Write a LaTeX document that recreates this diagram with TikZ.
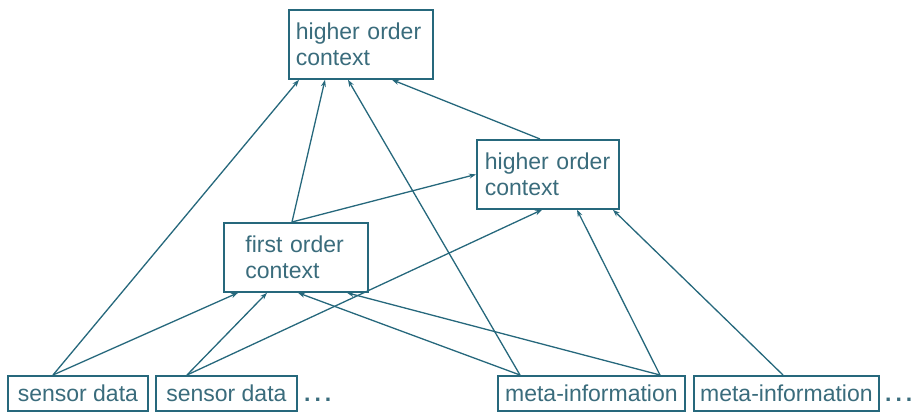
\documentclass[tikz,border=0pt]{standalone}
\usepackage{fontspec}
\setmainfont{Liberation Sans}
\usetikzlibrary{arrows.meta}
\definecolor{edgec}{RGB}{38,104,124}
\definecolor{textc}{RGB}{58,108,124}
\begin{document}
\begin{tikzpicture}[x=1pt,y=-1pt,
  font=\fontsize{23}{26}\selectfont,
  ctxbox/.style={draw=edgec,line width=1.8pt,fill=white,text=textc,
    align=left,minimum height=69pt,anchor=north west,inner ysep=0pt},
  srcbox/.style={draw=edgec,line width=1.8pt,fill=white,text=textc,
    minimum height=35pt,anchor=north west,inner sep=0pt},
  dots/.style={text=textc,anchor=base west,inner sep=0pt,font=\fontsize{23}{26}\selectfont\bfseries},
  arr/.style={draw=edgec,line width=1.3pt,-{Stealth[length=7pt,width=5pt]}}]
\useasboundingbox (0,0) rectangle (916,412);

% context nodes
\node[ctxbox,text width=130pt,inner xsep=7pt] (top) at (288,9) {higher order\\context};
\node[ctxbox,text width=126pt,inner xsep=8pt] (rh) at (476,139) {higher order\\context};
\node[ctxbox,text width=101pt,inner xsep=21.5pt] (fo) at (223,222) {first order\\context};

% data sources
\node[srcbox,minimum width=140pt] (sd1) at (7,375) {sensor data};
\node[srcbox,minimum width=141pt] (sd2) at (155,375) {sensor data};
\node[srcbox,minimum width=187pt] (mi1) at (497,375) {meta-information};
\node[srcbox,minimum width=185pt] (mi2) at (693,375) {meta-information};
\node[dots] (d1) at (304,401) {.\kern4pt.\kern4pt.};
\node[dots] (d2) at (885,401) {.\kern4pt.\kern4pt.};

% connectors
\draw[arr] ([xshift=46pt]sd1.north west) -- ([xshift=11pt]top.south west);
\draw[arr] ([xshift=46pt]sd1.north west) -- ([xshift=15pt]fo.south west);
\draw[arr] ([xshift=32pt]sd2.north west) -- ([xshift=44pt]fo.south west);
\draw[arr] ([xshift=32pt]sd2.north west) -- ([xshift=66pt]rh.south west);
\draw[arr] ([xshift=69pt]fo.north west) -- ([xshift=37pt]top.south west);
\draw[arr] ([xshift=69pt]fo.north west) -- (rh.west);
\draw[arr] ([xshift=23pt]mi1.north west) -- ([xshift=60pt]top.south west);
\draw[arr] ([xshift=23pt]mi1.north west) -- ([xshift=75pt]fo.south west);
\draw[arr] ([xshift=163pt]mi1.north west) -- ([xshift=124pt]fo.south west);
\draw[arr] ([xshift=163pt]mi1.north west) -- ([xshift=101pt]rh.south west);
\draw[arr] ([xshift=90pt]mi2.north west) -- ([xshift=137pt]rh.south west);
\draw[arr] ([xshift=64pt]rh.north west) -- ([xshift=104pt]top.south west);
\end{tikzpicture}
\end{document}
